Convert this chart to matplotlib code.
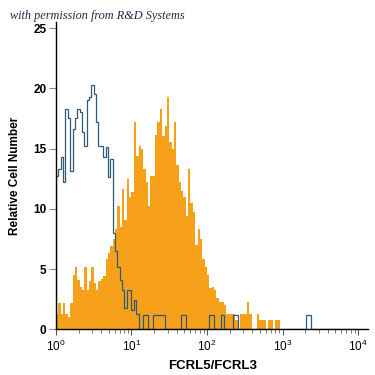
import numpy as np
import matplotlib
matplotlib.use("Agg")
import matplotlib.pyplot as plt
from matplotlib.ticker import LogLocator, NullFormatter, FixedLocator

# Histogram counts, 32 log bins per decade from 10^0 to 10^4
orange_counts = [
    1.3, 2.2, 1.3, 2.2, 1.3, 1.0, 2.2, 4.5, 5.2, 4.1, 3.5, 3.3, 5.2, 3.3, 4.0, 5.2,
    3.8, 3.3, 4.0, 4.2, 4.4, 5.8, 6.3, 6.9, 7.5, 8.3, 10.2, 8.5, 11.6, 9.1, 12.5, 11.0,
    11.4, 17.2, 14.4, 15.2, 15.0, 13.3, 12.2, 10.2, 12.7, 12.7, 16.1, 17.2, 18.3, 16.0, 16.9, 19.3,
    15.5, 15.0, 17.2, 13.6, 12.2, 11.5, 11.0, 9.4, 13.3, 10.5, 9.7, 7.0, 8.3, 7.5, 5.8, 5.2,
    4.5, 3.4, 3.5, 3.3, 2.6, 2.3, 2.3, 2.0, 1.3, 1.3, 1.3, 1.3, 0.75, 0, 1.3, 1.3,
    1.3, 2.3, 1.3, 0, 0, 1.3, 0.75, 0.75, 0.75, 0, 0.75, 0.75, 0, 0.75, 0.75, 0,
    0, 0, 0, 0, 0, 0, 0, 0, 0, 0, 0, 0, 0, 0, 0, 0,
    0, 0, 0, 0, 0, 0, 0, 0, 0, 0, 0, 0, 0, 0, 0, 0,
]
isotype_counts = [
    12.7, 13.3, 14.3, 12.2, 18.3, 17.5, 13.1, 16.6, 17.5, 18.3, 18.0, 16.4, 15.2, 19.0, 19.3, 20.3,
    19.5, 17.2, 15.2, 15.2, 14.3, 15.1, 12.6, 14.1, 8.0, 6.5, 5.2, 4.1, 3.3, 1.8, 3.3, 3.3,
    1.6, 2.4, 1.3, 0, 0, 1.2, 1.2, 0, 0, 1.2, 1.2, 1.2, 1.2, 1.2, 0, 0,
    0, 0, 0, 0, 0, 1.2, 1.2, 0, 0, 0, 0, 0, 0, 0, 0, 0,
    0, 1.2, 1.2, 0, 0, 0, 1.2, 0, 0, 0, 0, 1.2, 1.2, 0, 0, 0,
    0, 0, 0, 0, 0, 0, 0, 0, 0, 0, 0, 0, 0, 0, 0, 0,
    0, 0, 0, 0, 0, 0, 0, 0, 0, 0, 1.2, 1.2, 0, 0, 0, 0,
    0, 0, 0, 0, 0, 0, 0, 0, 0, 0, 0, 0, 0, 0, 0, 0,
]
y_ticks = [0, 5, 10, 15, 20, 25]
x_ticks = [1, 10, 100, 1000, 10000]
x_tick_labels = [r'$\mathregular{10^{0}}$', r'$\mathregular{10^{1}}$', r'$\mathregular{10^{2}}$',
                 r'$\mathregular{10^{3}}$', r'$\mathregular{10^{4}}$']

edges = np.logspace(0, 4, len(orange_counts) + 1)

plt.rcParams['font.family'] = ['Liberation Sans', 'DejaVu Sans']

fig = plt.figure(figsize=(3.75, 3.75), dpi=100)
ax = fig.add_axes([0.1493, 0.1219, 0.8328, 0.8195])

ax.stairs(orange_counts, edges, fill=True, color='#f7a11a', linewidth=0)
ax.stairs(isotype_counts, edges, color='#2e5a78', linewidth=0.9)

ax.set_xscale('log')
ax.set_xlim(1, 10 ** 4.136)
ax.set_ylim(0, 25.5)

ax.spines['top'].set_visible(False)
ax.spines['right'].set_visible(False)
ax.spines['left'].set_linewidth(1.0)
ax.spines['bottom'].set_linewidth(1.0)

ax.yaxis.set_major_locator(FixedLocator(y_ticks))
ax.tick_params(axis='y', direction='out', length=5, width=0.8, color='#888888',
               labelsize=8.5, pad=2)
for lab in ax.get_yticklabels():
    lab.set_fontweight('bold')

ax.xaxis.set_major_locator(FixedLocator(x_ticks))
ax.set_xticklabels(x_tick_labels)
ax.xaxis.set_minor_locator(LogLocator(base=10, subs=np.arange(2, 10)))
ax.xaxis.set_minor_formatter(NullFormatter())
ax.tick_params(axis='x', which='major', direction='out', length=4, width=0.8,
               color='#555555', labelsize=8.5, pad=3)
ax.tick_params(axis='x', which='minor', direction='out', length=3, width=0.7,
               color='#777777')

ax.set_xlabel('FCRL5/FCRL3', fontsize=9.5, fontweight='bold', labelpad=4)
ax.set_ylabel('Relative Cell Number', fontsize=8.5, fontweight='bold', labelpad=9)

fig.text(0.027, 0.958, 'with permission from R&D Systems', fontsize=8.8,
         style='italic', family='Liberation Serif', color='#1c2b4a', va='center')

fig.savefig('out.png', dpi=100)
